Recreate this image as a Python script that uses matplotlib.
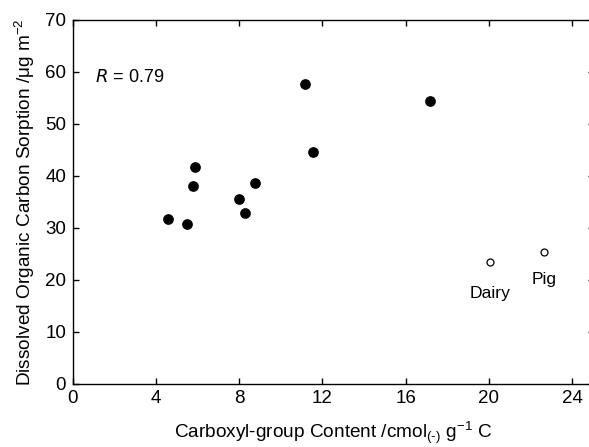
import matplotlib
matplotlib.use('Agg')
import matplotlib.pyplot as plt

plt.rcParams['font.family'] = ['Liberation Sans', 'DejaVu Sans']
plt.rcParams['mathtext.default'] = 'regular'

# soils (filled) and manures (open)
carboxyl = [4.58, 5.48, 5.79, 5.88, 7.97, 8.27, 8.77, 11.16, 11.56, 17.16]
doc_sorp = [31.7, 30.7, 38.1, 41.7, 35.6, 32.9, 38.65, 57.7, 44.6, 54.5]
manure_names = ['Dairy', 'Pig']
manure_x = [20.06, 22.64]
manure_y = [23.4, 25.4]
label_offsets = [-28, -25]

fig = plt.figure(figsize=(5.89, 4.47), dpi=100)
# right spine sits just past the edge of the picture, as in the original
ax = fig.add_axes([73/589, 63/447, 521/589, 364/447])

ax.plot(carboxyl, doc_sorp, 'o', color='black', markersize=6.7, linestyle='none')
ax.plot(manure_x, manure_y, 'o', markerfacecolor='white', markeredgecolor='black',
        markersize=5, markeredgewidth=0.9, linestyle='none')

for name, x, y, dy in zip(manure_names, manure_x, manure_y, label_offsets):
    ax.annotate(name, (x, y), xytext=(0, dy), textcoords='offset points',
                ha='center', va='bottom', fontsize=12.6)

ax.text(1.06, 59, '$\\it{R}$ = 0.79', fontsize=13, va='center', ha='left')

ax.set_xlim(0, 25.06)
ax.set_ylim(0, 70)
ax.set_xticks([0, 4, 8, 12, 16, 20, 24])
ax.set_yticks(range(0, 71, 10))
ax.tick_params(direction='in', top=True, right=True, labelsize=13.5, length=4, width=1)
ax.tick_params(axis='y', pad=5)
ax.tick_params(axis='x', pad=4.5)
for s in ax.spines.values():
    s.set_linewidth(1)

ax.set_xlabel('Carboxyl-group Content /cmol$_{(\u2010)}$ g$^{-1}$ C', fontsize=13.7, labelpad=9)
ax.set_ylabel('Dissolved Organic Carbon Sorption /\u03bcg m$^{-2}$', fontsize=13.7, labelpad=6)

fig.savefig('out.png', dpi=100)
